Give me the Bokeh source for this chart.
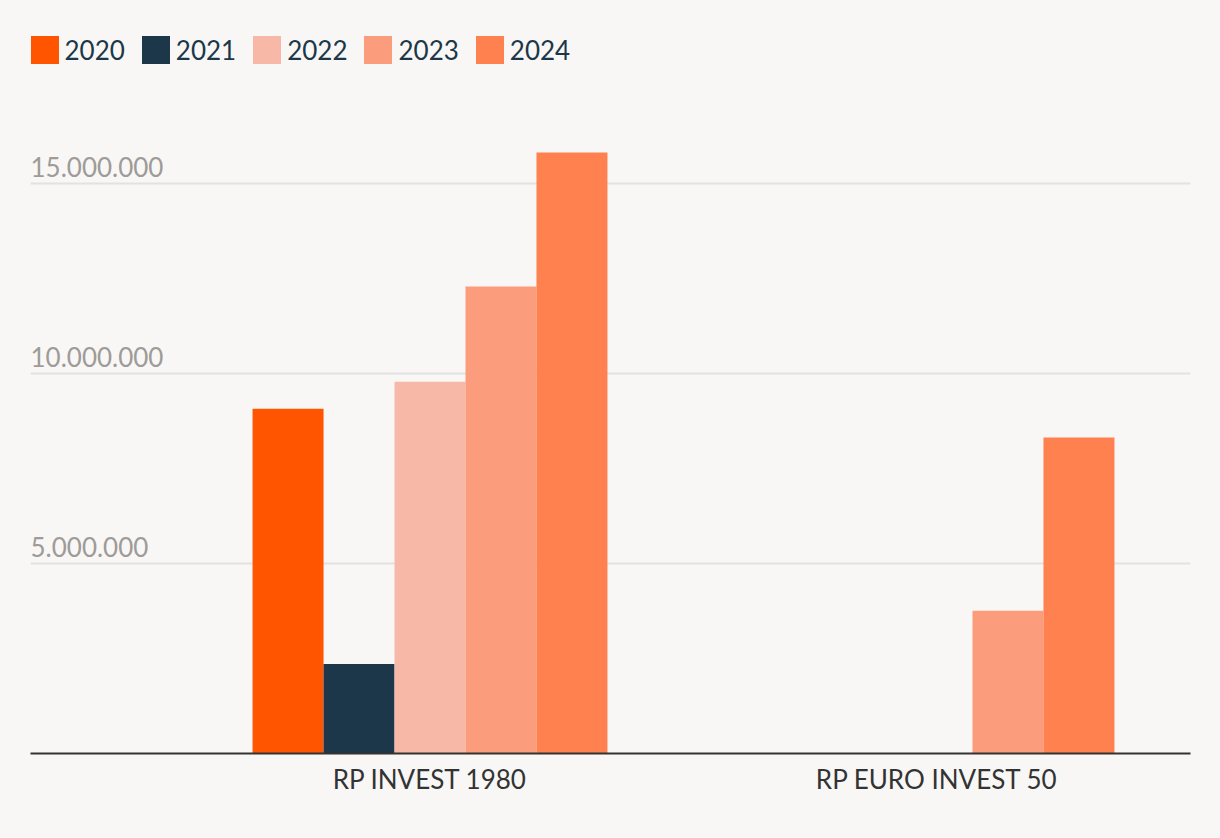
from bokeh.plotting import figure
from bokeh.models import Range1d, FixedTicker, Legend, LegendItem
from bokeh.core.properties import value
from bokeh.embed import file_html
from bokeh.resources import INLINE
import numpy as np

categories = ["RP INVEST 1980", "RP EURO INVEST 50"]
years = ["2020", "2021", "2022", "2023", "2024"]
v2020 = [9.08e6, np.nan]
v2021 = [2.36e6, np.nan]
v2022 = [9.79e6, np.nan]
v2023 = [12.30e6, 3.76e6]
v2024 = [15.83e6, 8.32e6]
series = [v2020, v2021, v2022, v2023, v2024]
colors = ["#FF5500", "#1B3749", "#F7B8A8", "#FB9C7C", "#FF8150"]
y_ticks = [5e6, 10e6, 15e6]
y_labels = [f"{t:,.0f}".replace(",", ".") for t in y_ticks]

BG = "#F8F7F5"
FONT = "Lato"

W, H = 1220, 838
BL, BR, BT, BB = 30, 30, 32, 85
frame_h = H - BT - BB

x_start, x_end = -0.288, 2.0
p = figure(width=W, height=H, output_backend="svg", toolbar_location=None,
           x_range=Range1d(x_start, x_end), y_range=Range1d(0, 18.99e6),
           min_border_left=BL, min_border_right=BR, min_border_top=BT, min_border_bottom=BB)
p.background_fill_color = BG
p.border_fill_color = BG
p.outline_line_color = None

bar_w = 0.14
items = []
for i, (yr, vals, c) in enumerate(zip(years, series, colors)):
    off = (i - 2) * bar_w
    xs = [k + 0.5 + off for k in range(len(categories))]
    r = p.vbar(x=xs, top=vals, bottom=0, width=bar_w, fill_color=c, line_color=None)
    items.append(LegendItem(label=yr, renderers=[r]))

GL = 35
legend = Legend(items=items, location=(-3.5, frame_h - GL), orientation="horizontal",
                margin=0, padding=0, glyph_width=GL, glyph_height=GL, label_standoff=3,
                spacing=13, label_height=GL,
                label_text_font=FONT, label_text_font_size="26px", label_text_color="#1B3749",
                background_fill_alpha=0, border_line_color=None)
p.add_layout(legend)

p.xgrid.visible = False
p.ygrid.ticker = FixedTicker(ticks=y_ticks)
p.ygrid.grid_line_color = "#E3E2E0"
p.ygrid.grid_line_width = 2

p.yaxis.visible = False
p.xaxis.ticker = FixedTicker(ticks=[k + 0.5 for k in range(len(categories))])
p.xaxis.major_label_overrides = {k + 0.5: c for k, c in enumerate(categories)}
p.xaxis.axis_line_color = "#333333"
p.xaxis.axis_line_width = 2
p.xaxis.major_tick_line_color = None
p.xaxis.minor_tick_line_color = None
p.xaxis.major_label_standoff = 3
p.xaxis.major_label_text_font = FONT
p.xaxis.major_label_text_font_size = "26px"
p.xaxis.major_label_text_color = "#333333"

p.text(x=[x_start] * len(y_ticks), y=y_ticks, text=y_labels,
       text_font=value(FONT), text_font_size="26px", text_color="#9E9B98",
       text_baseline="alphabetic", text_align="left", y_offset=-17)

html = file_html(p, INLINE)
html = html.replace("<head>", "<head><style>html,body{background:%s;}</style>" % BG, 1)
open("out.html", "w").write(html)
